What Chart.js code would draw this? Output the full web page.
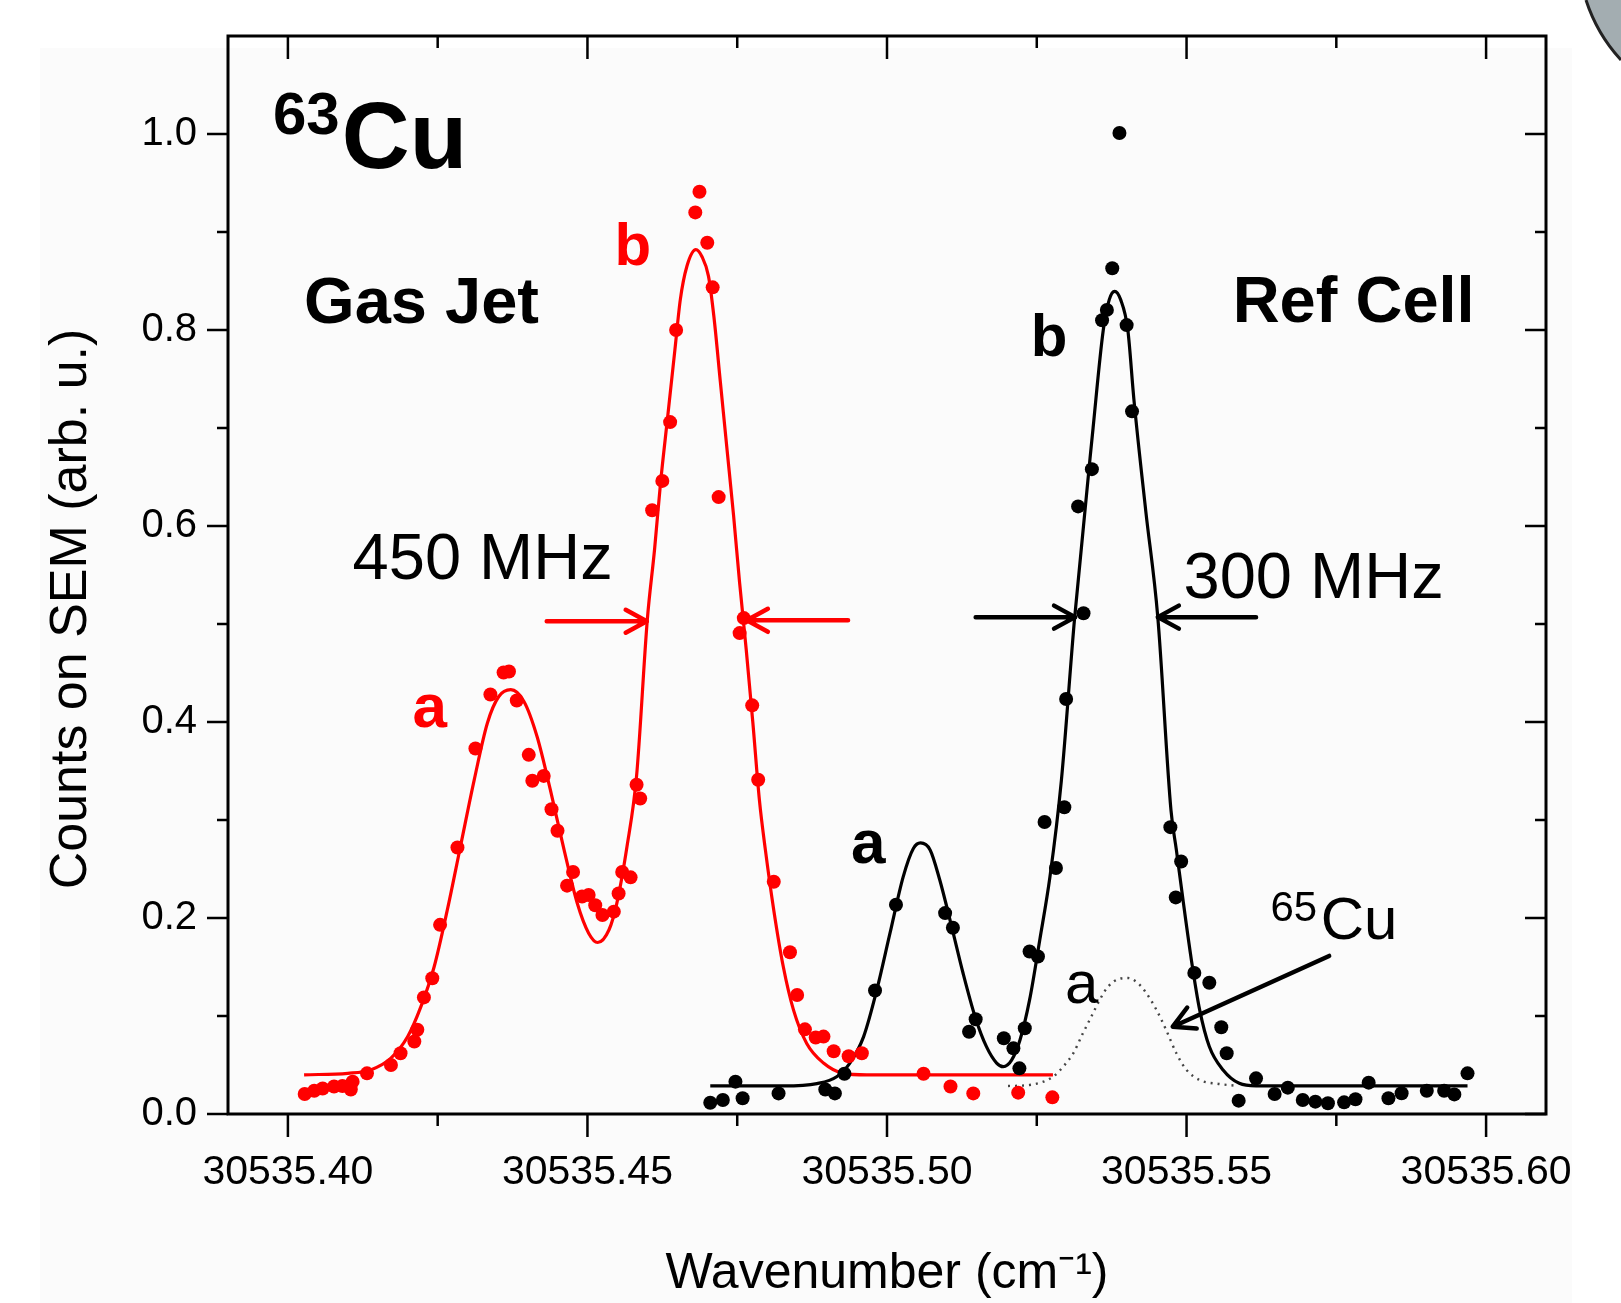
<!DOCTYPE html>
<html>
<head>
<meta charset="utf-8">
<script src="https://cdn.jsdelivr.net/npm/chart.js@4.4.1/dist/chart.umd.min.js"></script>
<style>
html,body{margin:0;padding:0;background:#ffffff;}
#wrap{width:1621px;height:1303px;position:relative;overflow:hidden;}
canvas{display:block;}
</style>
</head>
<body>
<div id="wrap"><canvas id="c" width="1621" height="1303"></canvas></div>
<script>
// ---------- axis ticks / labels ----------
const xTickValues = [30535.40, 30535.45, 30535.50, 30535.55, 30535.60];
const xTickLabels = ['30535.40', '30535.45', '30535.50', '30535.55', '30535.60'];
const xMinorTicks = [30535.425, 30535.475, 30535.525, 30535.575];
const yTickValues = [0.0, 0.2, 0.4, 0.6, 0.8, 1.0];
const yTickLabels = ['0.0', '0.2', '0.4', '0.6', '0.8', '1.0'];
const yMinorTicks = [0.1, 0.3, 0.5, 0.7, 0.9];
const xTitle = 'Wavenumber (cm\u207B\u00B9)';
const yTitle = 'Counts on SEM (arb. u.)';

// ---------- Gas Jet (red) measured points ----------
const gasJetX = [30535.4028, 30535.4044, 30535.4058, 30535.4077, 30535.4091, 30535.4105, 30535.4108, 30535.4132, 30535.4172, 30535.4188,
  30535.4211, 30535.4216, 30535.4227, 30535.4241, 30535.4254, 30535.4283, 30535.4313, 30535.4338, 30535.4360, 30535.4369,
  30535.4382, 30535.4402, 30535.4408, 30535.4427, 30535.4440, 30535.4450, 30535.4466, 30535.4476, 30535.4491, 30535.4502,
  30535.4513, 30535.4525, 30535.4544, 30535.4552, 30535.4558, 30535.4572, 30535.4582, 30535.4588, 30535.4608, 30535.4625,
  30535.4638, 30535.4648, 30535.4680, 30535.4687, 30535.4700, 30535.4709, 30535.4719, 30535.4754, 30535.4761, 30535.4775,
  30535.4785, 30535.4811, 30535.4838, 30535.4850, 30535.4863, 30535.4881, 30535.4894, 30535.4911, 30535.4936, 30535.4958,
  30535.5061, 30535.5106, 30535.5144, 30535.5219, 30535.5276];
const gasJetY = [0.0204, 0.0238, 0.026, 0.028, 0.0286, 0.025, 0.033, 0.0415, 0.050, 0.062,
  0.074, 0.086, 0.119, 0.1385, 0.193, 0.272, 0.373, 0.428, 0.4505, 0.4515,
  0.422, 0.3665, 0.340, 0.345, 0.311, 0.289, 0.233, 0.247, 0.222, 0.2235,
  0.213, 0.203, 0.2065, 0.225, 0.247, 0.2415, 0.336, 0.322, 0.616, 0.646,
  0.706, 0.800, 0.920, 0.941, 0.889, 0.8435, 0.6295, 0.4907, 0.506, 0.417,
  0.341, 0.237, 0.165, 0.1215, 0.0864, 0.078, 0.079, 0.064, 0.059, 0.062,
  0.041, 0.028, 0.021, 0.0218, 0.017];

// ---------- Gas Jet (red) fit curve ----------
const gasJetFitX = [30535.4027, 30535.4100, 30535.4138, 30535.4172, 30535.4200, 30535.4222, 30535.4244, 30535.4266, 30535.4288, 30535.4311,
  30535.4333, 30535.4352, 30535.4372, 30535.4394, 30535.4416, 30535.4438, 30535.4461, 30535.4483, 30535.4502, 30535.4517,
  30535.4536, 30535.4549, 30535.4566, 30535.4582, 30535.4600, 30535.4612, 30535.4622, 30535.4634, 30535.4646, 30535.4655,
  30535.4666, 30535.4681, 30535.4691, 30535.4702, 30535.4711, 30535.4722, 30535.4733, 30535.4744, 30535.4754, 30535.4765,
  30535.4776, 30535.4787, 30535.4797, 30535.4811, 30535.4827, 30535.4844, 30535.4866, 30535.4894, 30535.4927, 30535.4966,
  30535.5277];
const gasJetFitY = [0.040, 0.0415, 0.045, 0.057, 0.079, 0.1095, 0.150, 0.208, 0.273, 0.341,
  0.399, 0.426, 0.433, 0.421, 0.385, 0.331, 0.2695, 0.215, 0.1845, 0.175,
  0.188, 0.215, 0.273, 0.345, 0.505, 0.576, 0.644, 0.712, 0.780, 0.831,
  0.865, 0.882, 0.875, 0.855, 0.814, 0.746, 0.678, 0.610, 0.542, 0.474,
  0.400, 0.3205, 0.2695, 0.208, 0.150, 0.106, 0.072, 0.052, 0.0415, 0.040,
  0.040];

// ---------- Ref Cell (black) measured points ----------
const refCellX = [30535.4705, 30535.4726, 30535.4747, 30535.4759, 30535.4819, 30535.4897, 30535.4913, 30535.4929, 30535.4980, 30535.5015,
  30535.5097, 30535.5110, 30535.5137, 30535.5148, 30535.5195, 30535.5211, 30535.5221, 30535.5230, 30535.5238, 30535.5252,
  30535.5263, 30535.5282, 30535.5296, 30535.5299, 30535.5319, 30535.5328, 30535.5342, 30535.5359, 30535.5367, 30535.5376,
  30535.5388, 30535.5400, 30535.5409, 30535.5473, 30535.5482, 30535.5491, 30535.5513, 30535.5538, 30535.5558, 30535.5567,
  30535.5587, 30535.5616, 30535.5647, 30535.5669, 30535.5694, 30535.5715, 30535.5736, 30535.5763, 30535.5782, 30535.5804,
  30535.5837, 30535.5859, 30535.5901, 30535.5930, 30535.5947, 30535.5969];
const refCellY = [0.0115, 0.0143, 0.033, 0.016, 0.021, 0.025, 0.021, 0.041, 0.126, 0.2135,
  0.205, 0.190, 0.084, 0.0967, 0.0773, 0.067, 0.0466, 0.0875, 0.1658, 0.1607,
  0.298, 0.251, 0.313, 0.4235, 0.620, 0.511, 0.658, 0.810, 0.8205, 0.863,
  1.001, 0.805, 0.717, 0.2927, 0.221, 0.2576, 0.144, 0.134, 0.0885, 0.062,
  0.0136, 0.0364, 0.0204, 0.0269, 0.0143, 0.0126, 0.0109, 0.0119, 0.015, 0.032,
  0.016, 0.0211, 0.0238, 0.0238, 0.020, 0.0415];

// ---------- Ref Cell (black) fit curve ----------
const refCellFitX = [30535.4705, 30535.4827, 30535.4883, 30535.4916, 30535.4938, 30535.4961, 30535.4983, 30535.5005, 30535.5027, 30535.5044,
  30535.5056, 30535.5072, 30535.5088, 30535.5108, 30535.5127, 30535.5147, 30535.5166, 30535.5183, 30535.5194, 30535.5208,
  30535.5222, 30535.5238, 30535.5255, 30535.5272, 30535.5291, 30535.5313, 30535.5344, 30535.5361, 30535.5371, 30535.5380,
  30535.5390, 30535.5402, 30535.5412, 30535.5432, 30535.5452, 30535.5474, 30535.5483, 30535.5494, 30535.5508, 30535.5522,
  30535.5538, 30535.5561, 30535.5588, 30535.5616, 30535.5969];
const refCellFitY = [0.0286, 0.0286, 0.031, 0.038, 0.052, 0.079, 0.1266, 0.1845, 0.242, 0.271,
  0.2766, 0.2695, 0.239, 0.191, 0.1436, 0.0993, 0.0687, 0.052, 0.0483, 0.055,
  0.0755, 0.1164, 0.1776, 0.242, 0.340, 0.505, 0.700, 0.800, 0.831, 0.8395,
  0.831, 0.800, 0.730, 0.615, 0.507, 0.310, 0.2695, 0.2188, 0.1575, 0.106,
  0.0689, 0.0449, 0.0313, 0.0288, 0.0288];

// ---------- 65Cu (dotted) component ----------
const cu65FitX = [30535.5202, 30535.5238, 30535.5277, 30535.5294, 30535.5311, 30535.5327, 30535.5341, 30535.5355, 30535.5369, 30535.5388,
  30535.5402, 30535.5419, 30535.5433, 30535.5450, 30535.5466, 30535.5483, 30535.5500, 30535.5522, 30535.5555, 30535.5580];
const cu65FitY = [0.0286, 0.0296, 0.038, 0.0483, 0.062, 0.0824, 0.0993, 0.1164, 0.130, 0.138,
  0.1388, 0.1334, 0.1232, 0.106, 0.0857, 0.062, 0.0449, 0.0347, 0.0306, 0.029];

// ---------- styling ----------
const RED = '#ff0000';
const BLACK = '#000000';
const SANS = '"Liberation Sans", Arial, Helvetica, sans-serif';

const zip = (xs, ys) => xs.map((x, i) => ({x: x, y: ys[i]}));

// text annotations (anchored in data units: left edge, baseline)
const notes = [
  {t: '63', x: 30535.3975, y: 1.0004, f: 'bold 60px ' + SANS, c: BLACK},
  {t: 'Cu', x: 30535.4090, y: 0.965, f: 'bold 94px ' + SANS, c: BLACK},
  {t: 'Gas Jet', x: 30535.4027, y: 0.8068, f: 'bold 65px ' + SANS, c: BLACK},
  {t: 'Ref Cell', x: 30535.5577, y: 0.8079, f: 'bold 65px ' + SANS, c: BLACK},
  {t: 'b', x: 30535.4545, y: 0.8659, f: 'bold 60px ' + SANS, c: RED},
  {t: 'a', x: 30535.4208, y: 0.3951, f: 'bold 62px ' + SANS, c: RED},
  {t: 'b', x: 30535.5240, y: 0.773, f: 'bold 60px ' + SANS, c: BLACK},
  {t: 'a', x: 30535.4940, y: 0.2557, f: 'bold 62px ' + SANS, c: BLACK},
  {t: 'a', x: 30535.5297, y: 0.1133, f: '60px ' + SANS, c: BLACK},
  {t: '450 MHz', x: 30535.4108, y: 0.5461, f: '65px ' + SANS, c: BLACK},
  {t: '300 MHz', x: 30535.5495, y: 0.527, f: '65px ' + SANS, c: BLACK},
  {t: '65', x: 30535.5640, y: 0.1965, f: '42px ' + SANS, c: BLACK},
  {t: 'Cu', x: 30535.5724, y: 0.1786, f: '60px ' + SANS, c: BLACK}
];
const arrows = [
  {x1: 30535.4432, y1: 0.5028, x2: 30535.4599, y2: 0.5028, c: RED},
  {x1: 30535.4935, y1: 0.5038, x2: 30535.4766, y2: 0.5038, c: RED},
  {x1: 30535.5148, y1: 0.507, x2: 30535.5314, y2: 0.507, c: BLACK},
  {x1: 30535.5616, y1: 0.507, x2: 30535.5452, y2: 0.507, c: BLACK},
  {x1: 30535.5738, y1: 0.1613, x2: 30535.5477, y2: 0.0891, c: BLACK}
];

const decor = {
  id: 'decor',
  beforeDraw(chart) {
    const ctx = chart.ctx;
    ctx.save();
    ctx.fillStyle = '#fbfbfb';
    ctx.fillRect(40, 48, 1532, 1255);
    // slide decoration in the top-right corner
    ctx.beginPath();
    ctx.moveTo(1586, 0);
    ctx.quadraticCurveTo(1597, 34, 1621, 60);
    ctx.lineTo(1621, 0);
    ctx.closePath();
    ctx.fillStyle = '#a3adb1';
    ctx.fill();
    ctx.beginPath();
    ctx.moveTo(1586, 0);
    ctx.quadraticCurveTo(1597, 34, 1621, 60);
    ctx.strokeStyle = '#222';
    ctx.lineWidth = 3;
    ctx.stroke();
    ctx.restore();
  },
  afterDraw(chart) {
    const {ctx, chartArea: a, scales: {x, y}} = chart;
    ctx.save();
    // frame
    ctx.strokeStyle = BLACK;
    ctx.lineWidth = 3;
    ctx.strokeRect(a.left, a.top, a.right - a.left, a.bottom - a.top);
    // ticks
    ctx.lineWidth = 2.5;
    ctx.beginPath();
    const seg = (x1, y1, x2, y2) => { ctx.moveTo(x1, y1); ctx.lineTo(x2, y2); };
    xTickValues.forEach(v => { const p = x.getPixelForValue(v); seg(p, a.bottom, p, a.bottom + 23); seg(p, a.top, p, a.top + 23); });
    xMinorTicks.forEach(v => { const p = x.getPixelForValue(v); seg(p, a.bottom, p, a.bottom + 12); seg(p, a.top, p, a.top + 12); });
    yTickValues.forEach(v => { const p = y.getPixelForValue(v); seg(a.left - 21, p, a.left, p); seg(a.right - 21, p, a.right, p); });
    yMinorTicks.forEach(v => { const p = y.getPixelForValue(v); seg(a.left - 11, p, a.left, p); seg(a.right - 11, p, a.right, p); });
    ctx.stroke();

    // y title
    ctx.save();
    ctx.translate(72, 609);
    ctx.rotate(-Math.PI / 2);
    ctx.fillStyle = BLACK;
    ctx.font = '52px ' + SANS;
    ctx.textAlign = 'center';
    ctx.textBaseline = 'middle';
    ctx.fillText(yTitle, 0, 0);
    ctx.restore();

    // annotations
    ctx.textAlign = 'left';
    ctx.textBaseline = 'alphabetic';
    notes.forEach(n => {
      ctx.font = n.f;
      ctx.fillStyle = n.c;
      ctx.fillText(n.t, x.getPixelForValue(n.x), y.getPixelForValue(n.y));
    });

    // arrows
    ctx.lineCap = 'round';
    ctx.lineJoin = 'round';
    arrows.forEach(ar => {
      const x1 = x.getPixelForValue(ar.x1), y1 = y.getPixelForValue(ar.y1);
      const x2 = x.getPixelForValue(ar.x2), y2 = y.getPixelForValue(ar.y2);
      const ang = Math.atan2(y2 - y1, x2 - x1);
      const L = 24, h = 0.5;
      ctx.strokeStyle = ar.c;
      ctx.lineWidth = 4.5;
      ctx.beginPath();
      ctx.moveTo(x1, y1); ctx.lineTo(x2, y2);
      ctx.moveTo(x2 - L * Math.cos(ang - h), y2 - L * Math.sin(ang - h));
      ctx.lineTo(x2, y2);
      ctx.lineTo(x2 - L * Math.cos(ang + h), y2 - L * Math.sin(ang + h));
      ctx.stroke();
    });
    ctx.restore();
  }
};

new Chart(document.getElementById('c'), {
  type: 'scatter',
  data: {
    datasets: [
      {label: 'Gas Jet', data: zip(gasJetX, gasJetY), pointRadius: 7, pointBackgroundColor: RED, pointBorderWidth: 0, backgroundColor: RED, borderColor: RED, order: 0},
      {label: 'Ref Cell', data: zip(refCellX, refCellY), pointRadius: 7, pointBackgroundColor: BLACK, pointBorderWidth: 0, backgroundColor: BLACK, borderColor: BLACK, order: 0},
      {label: 'Gas Jet fit', data: zip(gasJetFitX, gasJetFitY), showLine: true, pointRadius: 0, borderColor: RED, borderWidth: 3.2, cubicInterpolationMode: 'monotone', order: 1},
      {label: 'Ref Cell fit', data: zip(refCellFitX, refCellFitY), showLine: true, pointRadius: 0, borderColor: BLACK, borderWidth: 3.2, cubicInterpolationMode: 'monotone', order: 1},
      {label: '65Cu a', data: zip(cu65FitX, cu65FitY), showLine: true, pointRadius: 0, borderColor: '#444444', borderWidth: 2.4, borderDash: [2, 5], cubicInterpolationMode: 'monotone', order: 2}
    ]
  },
  options: {
    responsive: false,
    animation: false,
    devicePixelRatio: 1,
    layout: {padding: {left: 0, right: 75, top: 36, bottom: 0}},
    plugins: {legend: {display: false}, tooltip: {enabled: false}},
    scales: {
      x: {
        type: 'linear', position: 'bottom', min: 30535.39, max: 30535.61,
        afterBuildTicks: s => { s.ticks = xTickValues.map(v => ({value: v})); },
        afterFit: s => { s.height = 189; s.paddingLeft = 0; s.paddingRight = 0; },
        ticks: {callback: (v, i) => xTickLabels[i], color: BLACK, font: {family: SANS, size: 41}, padding: 34, maxRotation: 0, minRotation: 0, autoSkip: false},
        grid: {display: false, drawTicks: false},
        border: {display: false},
        title: {display: true, text: xTitle, color: BLACK, font: {family: SANS, size: 50, lineHeight: 1}, padding: {top: 0, bottom: 4}}
      },
      y: {
        type: 'linear', position: 'left', min: 0, max: 1.1,
        afterBuildTicks: s => { s.ticks = yTickValues.map(v => ({value: v})); },
        afterFit: s => { s.width = 228; s.paddingTop = 0; s.paddingBottom = 0; },
        ticks: {callback: (v, i) => yTickLabels[i], color: BLACK, font: {family: SANS, size: 40}, padding: 31, autoSkip: false},
        grid: {display: false, drawTicks: false},
        border: {display: false},
        title: {display: false, text: yTitle}
      }
    }
  },
  plugins: [decor]
});
</script>
</body>
</html>
